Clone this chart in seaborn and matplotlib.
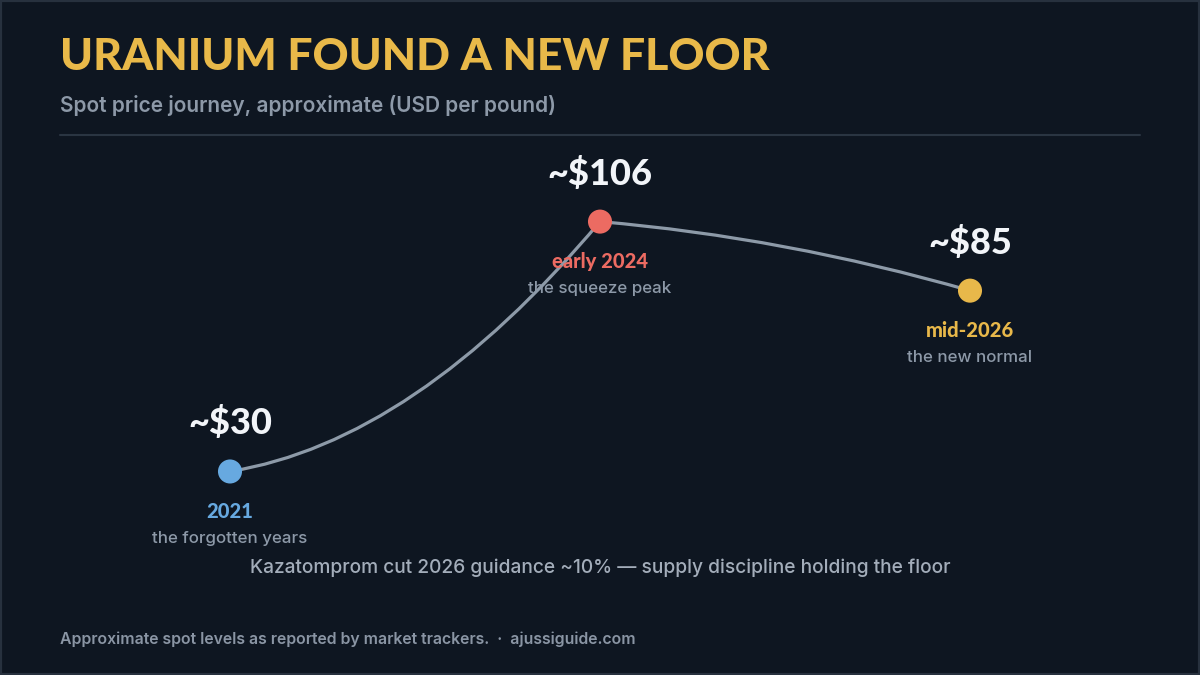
import matplotlib.pyplot as plt
import seaborn as sns
import pandas as pd
from matplotlib.path import Path
from matplotlib.patches import PathPatch, Rectangle

# data
periods = ["2021", "early 2024", "mid-2026"]
prices = [30, 106, 85]
value_labels = ["~$30", "~$106", "~$85"]
captions = ["the forgotten years", "the squeeze peak", "the new normal"]
dot_colors = ["#67a9e0", "#ec6b62", "#e8b84a"]

BG = "#0e1621"
GRID = "#2a3542"
MUTED = "#8d99a8"
HEAVY = ["Lato", "DejaVu Sans"]

sns.set_style("white")
plt.rcParams["font.family"] = ["Inter", "DejaVu Sans"]

df = pd.DataFrame({"period": periods, "price": prices, "pos": range(len(periods))})

fig = plt.figure(figsize=(12, 6.75), dpi=100, facecolor=BG)
ax = fig.add_axes([0, 0, 1, 1])

# curved connector: one quadratic bezier per segment
ctrl_frac = [0.12, 0.23]
for i in range(len(df) - 1):
    x0, y0 = df.pos[i], df.price[i]
    x1, y1 = df.pos[i + 1], df.price[i + 1]
    cx = (x0 + x1) / 2
    cy = y0 + ctrl_frac[i] * (y1 - y0)
    path = Path([(x0, y0), (cx, cy), (x1, y1)], [Path.MOVETO, Path.CURVE3, Path.CURVE3])
    ax.add_patch(PathPatch(path, fc="none", ec="#8d9aa8", lw=2.3, capstyle="round", zorder=2))

sns.scatterplot(data=df, x="pos", y="price", hue="period", palette=dot_colors,
                s=300, linewidth=0, legend=False, zorder=3, ax=ax)
ax.set_facecolor(BG)
ax.set_xlim(-0.6216, 2.6216)
ax.set_ylim(-31.9, 173.4)
ax.axis("off")

for i, row in df.iterrows():
    xy = (row.pos, row.price)
    ax.annotate(value_labels[i], xy, xytext=(0, 48), textcoords="offset pixels",
                ha="center", va="center", fontsize=26, fontweight="black",
                color="#f2f5f9", family=HEAVY)
    ax.annotate(row.period, xy, xytext=(0, -40), textcoords="offset pixels",
                ha="center", va="center", fontsize=14.5, fontweight="black",
                color=dot_colors[i], family=HEAVY)
    ax.annotate(captions[i], xy, xytext=(0, -67), textcoords="offset pixels",
                ha="center", va="center", fontsize=12.2, fontweight="medium",
                color=MUTED)

fig.text(60 / 1200, 1 - 57 / 675, "URANIUM FOUND A NEW FLOOR", ha="left", va="center",
         fontsize=32, fontweight="black", color="#e9b949", family=HEAVY)
fig.text(60 / 1200, 1 - 105 / 675, "Spot price journey, approximate (USD per pound)",
         ha="left", va="center", fontsize=15, fontweight="semibold", color=MUTED)
fig.add_artist(plt.Line2D([60 / 1200, 1140 / 1200], [1 - 135 / 675] * 2,
                          color=GRID, lw=1.5, transform=fig.transFigure))

fig.text(0.5, 1 - 568 / 675,
         "Kazatomprom cut 2026 guidance ~10% \u2014 supply discipline holding the floor",
         ha="center", va="center", fontsize=13.8, fontweight="medium", color="#a3adba")
fig.text(60 / 1200, 1 - 639 / 675,
         "Approximate spot levels as reported by market trackers.  \u00b7  ajussiguide.com",
         ha="left", va="center", fontsize=11.4, fontweight="semibold", color="#8a95a4")

fig.add_artist(Rectangle((0, 0), 1, 1, transform=fig.transFigure, fill=False,
                         ec="#27313e", lw=3))

fig.savefig("out.png", dpi=100, facecolor=BG)
